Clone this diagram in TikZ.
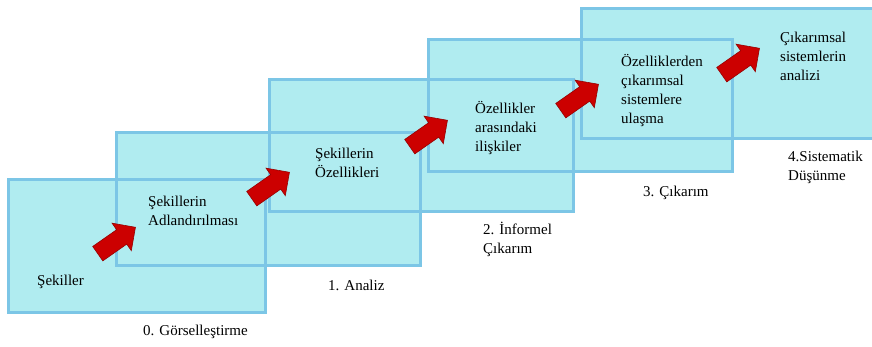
\documentclass[tikz,border=0pt]{standalone}
\usepackage{fontspec}
\setmainfont{Liberation Serif}
\usetikzlibrary{shapes.arrows}
\definecolor{boxfill}{RGB}{176,236,240}
\definecolor{boxline}{RGB}{124,198,230}
\definecolor{arrowred}{RGB}{204,0,0}
\definecolor{arrowdark}{RGB}{150,0,0}
\newcommand\mlines[1]{\begin{tabular}[t]{@{}l@{}}#1\end{tabular}}
\begin{document}
\begin{tikzpicture}[x=1pt,y=-1pt,
  stagebox/.style={anchor=north west, inner sep=0pt, outer sep=0pt, fill=boxfill},
  redarrow/.style={single arrow, fill=arrowred, draw=arrowdark, line width=0.6pt,
    minimum height=46pt, inner sep=8.5pt, single arrow head extend=8pt,
    rotate=35, anchor=center},
  lbl/.style={anchor=base west, inner sep=0pt, font=\fontsize{15}{19}\selectfont}]
\useasboundingbox (0,0) rectangle (872,347);
\fill[white] (0,0) rectangle (872,347);
\begin{scope}
\clip (0,0) rectangle (872,347);
% fills
\node[stagebox, minimum width=257pt, minimum height=132pt] (r0) at (8,180) {};
\node[stagebox, minimum width=304pt, minimum height=132pt] (r1) at (116,133) {};
\node[stagebox, minimum width=304pt, minimum height=132pt] (r2) at (269,80) {};
\node[stagebox, minimum width=304pt, minimum height=132pt] (r3) at (428,40) {};
\node[stagebox, minimum width=310pt, minimum height=130pt] (r4) at (581,9) {};
% borders
\foreach \r in {r0,r1,r2,r3,r4}
  \draw[boxline, line width=3pt] (\r.north west) rectangle (\r.south east);
\end{scope}
% arrows
\node[redarrow] (a1) at (113,243) {};
\node[redarrow] (a2) at (267,188) {};
\node[redarrow] (a3) at (425,136) {};
\node[redarrow] (a4) at (576,100) {};
\node[redarrow] (a5) at (737,64) {};
% texts inside boxes
\node[lbl] (t0) at (37,285) {Şekiller};
\node[lbl] (t1) at (148,207) {\mlines{Şekillerin\\Adlandırılması}};
\node[lbl] (t2) at (315,159) {\mlines{Şekillerin\\Özellikleri}};
\node[lbl] (t3) at (475,114) {\mlines{Özellikler\\arasındaki\\ilişkiler}};
\node[lbl] (t4) at (621,67) {\mlines{Özelliklerden\\çıkarımsal\\sistemlere\\ulaşma}};
\node[lbl] (t5) at (780,43) {\mlines{Çıkarımsal\\sistemlerin\\analizi}};
% stage labels
\node[lbl] (s0) at (143,335) {0. Görselleştirme};
\node[lbl] (s1) at (328,290) {1. Analiz};
\node[lbl] (s2) at (483,235) {\mlines{2. İnformel\\Çıkarım}};
\node[lbl] (s3) at (643,197) {3. Çıkarım};
\node[lbl] (s4) at (788,162) {\mlines{4.Sistematik\\Düşünme}};
\end{tikzpicture}
\end{document}
